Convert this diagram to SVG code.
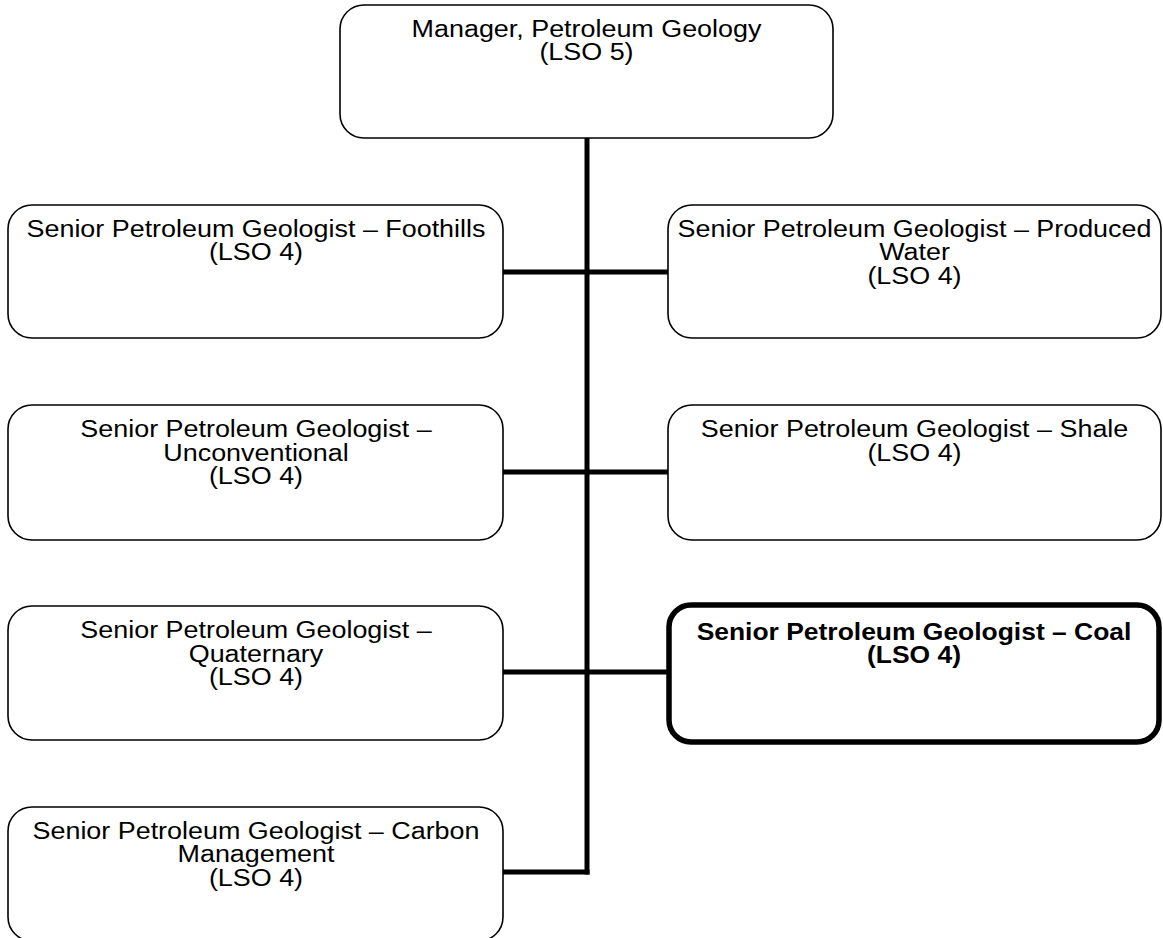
<svg xmlns="http://www.w3.org/2000/svg" width="1163" height="938" viewBox="0 0 1163 938">
<style>
.box{fill:#fff;stroke:#000;stroke-width:1.6}
.bold{fill:#fff;stroke:#000;stroke-width:5.5}
text{font-family:"Liberation Sans",Arial,sans-serif;font-size:23px;fill:#000;text-anchor:middle}
.b{font-weight:bold}
.ln{stroke:#000;stroke-width:5;fill:none}
</style>
<rect width="1163" height="938" fill="#fff"/>
<g id="connectors">
<line class="ln" x1="587" y1="138" x2="587" y2="874.5"/>
<line class="ln" x1="503" y1="272" x2="668" y2="272"/>
<line class="ln" x1="503" y1="472" x2="668" y2="472"/>
<line class="ln" x1="503" y1="672" x2="668" y2="672"/>
<line class="ln" x1="503" y1="872" x2="589.5" y2="872"/>
</g>
<g id="manager">
<rect class="box" x="340" y="5" width="493" height="133" rx="24"/>
<g transform="translate(586.5 0) scale(1.17 1)">
<text x="0" y="37">Manager, Petroleum Geology</text>
<text x="0" y="60.5">(LSO 5)</text>
</g>
</g>
<g id="foothills">
<rect class="box" x="8" y="205" width="495" height="133" rx="24"/>
<g transform="translate(256 0) scale(1.17 1)">
<text x="0" y="237">Senior Petroleum Geologist – Foothills</text>
<text x="0" y="260.5">(LSO 4)</text>
</g>
</g>
<g id="produced-water">
<rect class="box" x="668" y="205" width="493" height="133" rx="24"/>
<g transform="translate(914.5 0) scale(1.17 1)">
<text x="0" y="237">Senior Petroleum Geologist – Produced</text>
<text x="0" y="260.5">Water</text>
<text x="0" y="284">(LSO 4)</text>
</g>
</g>
<g id="unconventional">
<rect class="box" x="8" y="405" width="495" height="135" rx="24"/>
<g transform="translate(256 0) scale(1.17 1)">
<text x="0" y="437.5">Senior Petroleum Geologist –</text>
<text x="0" y="461">Unconventional</text>
<text x="0" y="484.5">(LSO 4)</text>
</g>
</g>
<g id="shale">
<rect class="box" x="668" y="405" width="493" height="135" rx="24"/>
<g transform="translate(914.5 0) scale(1.17 1)">
<text x="0" y="437.5">Senior Petroleum Geologist – Shale</text>
<text x="0" y="461">(LSO 4)</text>
</g>
</g>
<g id="quaternary">
<rect class="box" x="8" y="606" width="495" height="134" rx="24"/>
<g transform="translate(256 0) scale(1.17 1)">
<text x="0" y="638.5">Senior Petroleum Geologist –</text>
<text x="0" y="662">Quaternary</text>
<text x="0" y="685.5">(LSO 4)</text>
</g>
</g>
<g id="coal">
<rect class="bold" x="669" y="605" width="490" height="137" rx="22"/>
<g transform="translate(914 0) scale(1.15 1)">
<text class="b" x="0" y="640">Senior Petroleum Geologist – Coal</text>
<text class="b" x="0" y="663.5">(LSO 4)</text>
</g>
</g>
<g id="carbon-management">
<rect class="box" x="8" y="807" width="495" height="134" rx="24"/>
<g transform="translate(256 0) scale(1.17 1)">
<text x="0" y="839">Senior Petroleum Geologist – Carbon</text>
<text x="0" y="862.5">Management</text>
<text x="0" y="886">(LSO 4)</text>
</g>
</g>
</svg>
